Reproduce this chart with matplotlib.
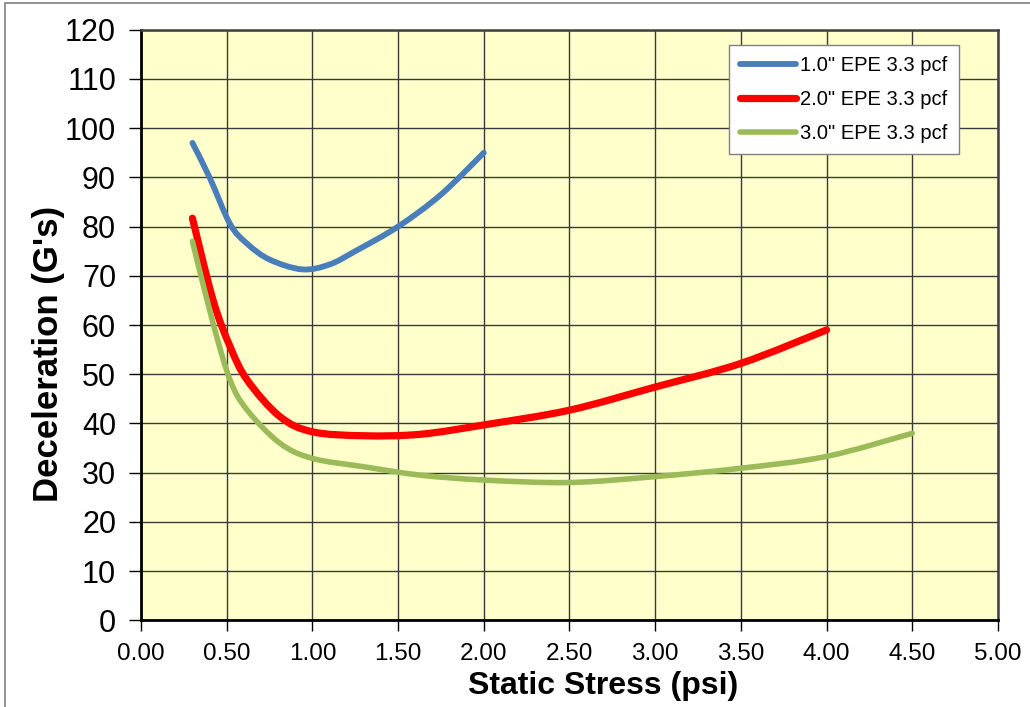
import matplotlib.pyplot as plt
from matplotlib.patches import Rectangle, PathPatch
from matplotlib.path import Path
from matplotlib.lines import Line2D

plt.rcParams['font.family'] = ['Liberation Sans', 'DejaVu Sans']

# values
x_1in = [0.30, 0.40, 0.52, 0.62, 0.75, 0.94, 1.10, 1.25, 1.50, 1.75, 2.00]
y_1in = [97.0, 90.0, 80.5, 76.5, 73.3, 71.3, 72.3, 75.0, 80.0, 86.5, 95.0]

x_2in = [0.30, 0.42, 0.52, 0.62, 0.81, 1.00, 1.30, 1.63, 2.00, 2.50, 3.00, 3.50, 4.00]
y_2in = [81.7, 65.1, 55.6, 48.8, 41.4, 38.3, 37.5, 37.8, 39.7, 42.7, 47.4, 52.2, 59.0]

x_3in = [0.30, 0.42, 0.52, 0.62, 0.81, 1.00, 1.30, 1.63, 2.00, 2.50, 3.00, 3.50, 4.00, 4.50]
y_3in = [77.0, 60.4, 48.8, 42.7, 36.0, 32.9, 31.2, 29.5, 28.5, 28.0, 29.2, 30.9, 33.3, 38.0]

labels = ['1.0" EPE 3.3 pcf', '2.0" EPE 3.3 pcf', '3.0" EPE 3.3 pcf']
colors = ['#4A7EBB', '#FF0000', '#9BBB59']
widths = [4.2, 5.2, 4.0]
x_ticks = [0, 0.5, 1, 1.5, 2, 2.5, 3, 3.5, 4, 4.5, 5]
y_ticks = list(range(0, 130, 10))


def smooth_path(xs, ys):
    # Excel-style "smoothed line": cubic bezier through the points
    pts = list(zip(xs, ys))
    verts = [pts[0]]
    codes = [Path.MOVETO]
    n = len(pts)
    for i in range(n - 1):
        p0 = pts[i - 1] if i > 0 else pts[i]
        p1 = pts[i]
        p2 = pts[i + 1]
        p3 = pts[i + 2] if i + 2 < n else pts[i + 1]
        c1 = (p1[0] + (p2[0] - p0[0]) / 6, p1[1] + (p2[1] - p0[1]) / 6)
        c2 = (p2[0] - (p3[0] - p1[0]) / 6, p2[1] - (p3[1] - p1[1]) / 6)
        verts += [c1, c2, p2]
        codes += [Path.CURVE4] * 3
    return Path(verts, codes)


fig = plt.figure(figsize=(10.3, 7.07), dpi=100)
ax = fig.add_axes([0.1369, 0.1226, 0.8320, 0.8354])
ax.set_facecolor('#FFFFCC')

# outer chart border (only top and left visible in the reference)
fig.patches.append(Rectangle((5 / 1030, -0.1), 1.2, 1 - 3 / 707 + 0.1, transform=fig.transFigure,
                             fill=False, edgecolor='#808080', linewidth=1.2))

series = [(x_1in, y_1in), (x_2in, y_2in), (x_3in, y_3in)]
handles = []
for (xs, ys), c, w, lab in zip(series, colors, widths, labels):
    ax.add_patch(PathPatch(smooth_path(xs, ys), facecolor='none', edgecolor=c, linewidth=w,
                           capstyle='round', joinstyle='round', zorder=3))
    handles.append(Line2D([], [], color=c, linewidth=w, solid_capstyle='round', label=lab))

ax.set_xlim(0, 5)
ax.set_ylim(0, 120)
ax.set_xticks(x_ticks)
ax.set_xticklabels(['%.2f' % v for v in x_ticks])
ax.set_yticks(y_ticks)
ax.grid(True, color='#3a3a3a', linewidth=1.0)
ax.set_axisbelow(True)

ax.tick_params(axis='y', labelsize=22, length=9, width=1, direction='out', pad=9, colors='black')
ax.tick_params(axis='x', labelsize=17.5, length=8, width=1, direction='out', pad=8, colors='black')
for side in ['top', 'right']:
    ax.spines[side].set_color('#404040')
    ax.spines[side].set_linewidth(1.8)
for side in ['left', 'bottom']:
    ax.spines[side].set_color('black')
    ax.spines[side].set_linewidth(2.0)

ax.set_xlabel('Static Stress (psi)', fontsize=23, fontweight='bold')
ax.set_ylabel("Deceleration (G's)", fontsize=25, fontweight='bold')
ax.xaxis.set_label_coords(0.539, -0.085)
ax.yaxis.set_label_coords(-0.089, 0.451)

leg = ax.legend(handles=handles, loc='upper right', bbox_to_anchor=(0.966, 0.991), fontsize=14.5,
                frameon=True, fancybox=False, edgecolor='#808080', framealpha=1, handlelength=2.8,
                handletextpad=0.2, labelspacing=0.75, borderpad=0.55)
leg.get_frame().set_linewidth(1.0)

fig.savefig('out.png', dpi=100)
